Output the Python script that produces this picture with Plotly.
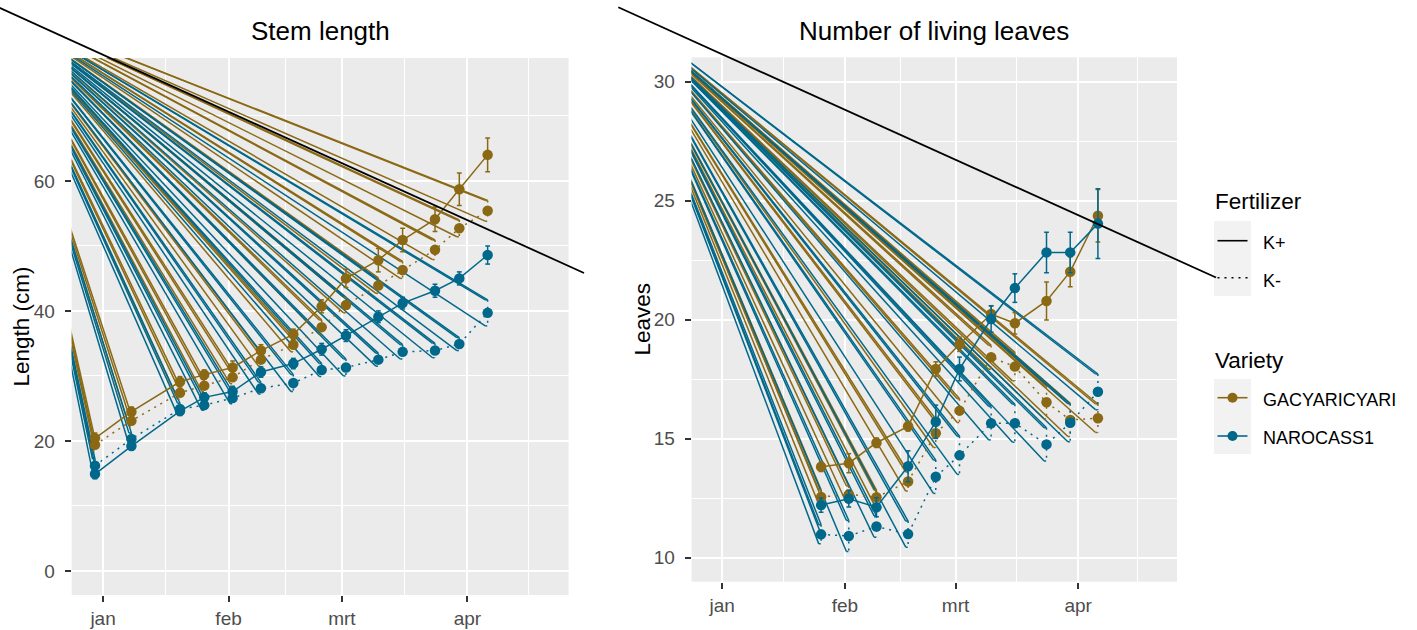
import pandas as pd
import plotly.graph_objects as go

# ---------------------------------------------------------------- data
BASE = pd.Timestamp("2019-01-01")

stem_dates = ["2018-12-30", "2019-01-08", "2019-01-20", "2019-01-26", "2019-02-02",
              "2019-02-09", "2019-02-17", "2019-02-24", "2019-03-02", "2019-03-10",
              "2019-03-16", "2019-03-24", "2019-03-30", "2019-04-06"]
leaf_dates = stem_dates[3:]

# Stem length (cm): mean and standard error per variety x fertilizer
stem_gac_kplus = [20.4, 24.5, 29.1, 30.2, 31.3, 33.9, 36.4, 40.7, 45.0, 47.8, 50.9, 54.1, 58.7, 64.0]
stem_gac_kplus_se = [0.8, 0.7, 0.8, 0.7, 1.0, 0.9, 0.8, 1.0, 1.4, 1.8, 1.8, 1.9, 2.5, 2.6]
stem_gac_kmin = [19.4, 23.1, 27.4, 28.5, 29.8, 32.5, 34.8, 37.5, 40.9, 43.9, 46.3, 49.4, 52.7, 55.4]
stem_gac_kmin_se = [0.9, 0.8, 1.0, 0.9, 1.0, 1.0, 1.1, 1.1, 1.2, 1.2, 1.3, 1.5, 1.3, 1.6]
stem_naro_kplus = [14.9, 19.2, 24.6, 26.7, 27.6, 30.6, 31.9, 34.1, 36.2, 39.1, 41.2, 43.1, 45.0, 48.6]
stem_naro_kplus_se = [0.7, 0.6, 0.7, 0.7, 0.8, 0.8, 0.8, 0.9, 0.9, 0.9, 0.9, 1.0, 1.0, 1.4]
stem_naro_kmin = [16.2, 20.3, 24.9, 25.5, 26.6, 28.1, 28.9, 30.9, 31.3, 32.5, 33.7, 33.9, 34.9, 39.7]
stem_naro_kmin_se = [1.0, 0.9, 0.9, 0.8, 0.9, 0.9, 1.3, 1.0, 1.3, 1.0, 1.1, 1.1, 1.0, 2.0]

# Number of living leaves: mean and standard error
leaf_gac_kplus = [13.82, 13.97, 14.83, 15.52, 17.93, 18.97, 20.24, 19.85, 20.79, 22.02, 24.37]
leaf_gac_kplus_se = [0.2, 0.4, 0.2, 0.2, 0.3, 0.3, 0.35, 0.45, 0.8, 0.63, 1.1]
leaf_gac_kmin = [12.55, 12.66, 12.54, 13.20, 15.23, 16.18, 18.42, 18.03, 16.53, 15.79, 15.86]
leaf_gac_kmin_se = [0.3, 0.35, 0.3, 0.4, 0.6, 0.5, 0.5, 0.6, 0.7, 0.7, 0.6]
leaf_naro_kplus = [12.21, 12.48, 12.12, 13.84, 15.71, 17.93, 20.03, 21.33, 22.83, 22.83, 24.04]
leaf_naro_kplus_se = [0.3, 0.35, 0.4, 0.65, 0.7, 0.5, 0.55, 0.6, 0.85, 0.85, 1.47]
leaf_naro_kmin = [10.98, 10.91, 11.31, 10.99, 13.40, 14.30, 15.65, 15.65, 14.76, 15.67, 16.97]
leaf_naro_kmin_se = [0.4, 0.65, 0.45, 0.55, 0.7, 0.8, 0.7, 0.8, 0.7, 0.8, 0.75]

month_ticks = ["2019-01-01", "2019-02-01", "2019-03-01", "2019-04-01"]
month_labels = ["jan", "feb", "mrt", "apr"]
month_mids = ["2019-01-16 12:00", "2019-02-15", "2019-03-16 12:00", "2019-04-16"]

# stray stroke origin of every dotted path, one per panel (date offset in days, value)
stem_origin = (-25.87, 86.7)
leaf_origin = (-26.27, 33.13)

# ---------------------------------------------------------------- style
GOLD = "#8B6914"
BLUE = "#00688B"
FONT = "Liberation Sans, Arial, sans-serif"
W, H = 1417, 630
CAP = 0.6          # half width of the error bar caps, days
DOT = "2px,5px"


def fx(p):
    return p / W


def fy(p):
    return 1 - p / H


def ts(t):
    return pd.Timestamp(t)


def iso(t):
    return t.strftime("%Y-%m-%d %H:%M:%S")


def errorbar_xy(dates, mean, se):
    xs, ys = [], []
    for d, m, s in zip(dates, mean, se):
        t = ts(d)
        lo, hi = iso(t - pd.Timedelta(days=CAP)), iso(t + pd.Timedelta(days=CAP))
        xs += [lo, hi, None, iso(t), iso(t), None, lo, hi, None]
        ys += [m + s, m + s, None, m + s, m - s, None, m - s, m - s, None]
    return xs, ys


def stray_xy(origin, dates, mean, se):
    ox = iso(BASE + pd.Timedelta(days=origin[0]))
    oy = origin[1]
    xs, ys = [], []
    # first vertex of the dotted series line
    xs += [ox, iso(ts(dates[0])), None]
    ys += [oy, mean[0], None]
    for d, m, s in zip(dates, mean, se):
        t = ts(d)
        left = iso(t - pd.Timedelta(days=CAP))
        for px_, py_ in ((left, m + s), (iso(t), m + s), (left, m - s)):
            xs += [ox, px_, None]
            ys += [oy, py_, None]
    return xs, ys


fig = go.Figure()

panels = [
    ("x", "y", stem_dates, stem_origin, [
        (GOLD, "solid", stem_gac_kplus, stem_gac_kplus_se),
        (GOLD, "dot", stem_gac_kmin, stem_gac_kmin_se),
        (BLUE, "solid", stem_naro_kplus, stem_naro_kplus_se),
        (BLUE, "dot", stem_naro_kmin, stem_naro_kmin_se),
    ]),
    ("x2", "y2", leaf_dates, leaf_origin, [
        (GOLD, "solid", leaf_gac_kplus, leaf_gac_kplus_se),
        (GOLD, "dot", leaf_gac_kmin, leaf_gac_kmin_se),
        (BLUE, "solid", leaf_naro_kplus, leaf_naro_kplus_se),
        (BLUE, "dot", leaf_naro_kmin, leaf_naro_kmin_se),
    ]),
]

for xa, ya, dates, origin, series in panels:
    # stray strokes from the dotted paths
    for color, dash, mean, se in series:
        if dash != "dot":
            continue
        sx, sy = stray_xy(origin, dates, mean, se)
        fig.add_trace(go.Scatter(x=sx, y=sy, mode="lines", xaxis=xa, yaxis=ya,
                                 line=dict(color=color, width=1.5), hoverinfo="skip",
                                 showlegend=False))
    for color, dash, mean, se in series:
        d = DOT if dash == "dot" else "solid"
        ex, ey = errorbar_xy(dates, mean, se)
        fig.add_trace(go.Scatter(x=ex, y=ey, mode="lines", xaxis=xa, yaxis=ya,
                                 line=dict(color=color, width=1.5, dash=d),
                                 hoverinfo="skip", showlegend=False))
        fig.add_trace(go.Scatter(x=dates, y=mean, mode="lines+markers", xaxis=xa, yaxis=ya,
                                 line=dict(color=color, width=1.5, dash=d),
                                 marker=dict(color=color, size=10.5, symbol="circle"),
                                 showlegend=False))

x_range = [iso(BASE + pd.Timedelta(days=-7.75)), iso(BASE + pd.Timedelta(days=115.0))]

common_x = dict(type="date", range=x_range, tickmode="array", tickvals=month_ticks,
                ticktext=month_labels, showgrid=True, gridcolor="white", gridwidth=2.2,
                zeroline=False, showline=False, ticks="outside", ticklen=6, tickwidth=1.5,
                tickcolor="#333333", tickfont=dict(family=FONT, size=19, color="#4D4D4D"),
                minor=dict(tickmode="array", tickvals=month_mids, showgrid=True,
                           gridcolor="white", gridwidth=1.1, ticks=""),
                ticklabelstandoff=0, automargin=False, fixedrange=True)
common_y = dict(showgrid=True, gridcolor="white", gridwidth=2.2, zeroline=False,
                showline=False, ticks="outside", ticklen=6, tickwidth=1.5,
                tickcolor="#333333", tickfont=dict(family=FONT, size=19, color="#4D4D4D"),
                ticklabelstandoff=6, automargin=False, fixedrange=True)

fig.update_layout(
    width=W, height=H,
    margin=dict(l=0, r=0, t=0, b=0),
    paper_bgcolor="white", plot_bgcolor="#EBEBEB",
    font=dict(family=FONT),
    showlegend=False,
    xaxis=dict(common_x, domain=[fx(71.7), fx(568.6)], anchor="y"),
    yaxis=dict(common_y, domain=[fy(595), fy(58)], anchor="x", range=[-3.7, 78.9],
               tickvals=[0, 20, 40, 60],
               minor=dict(tickmode="array", tickvals=[10, 30, 50, 70], showgrid=True,
                          gridcolor="white", gridwidth=1.1, ticks="")),
    xaxis2=dict(common_x, domain=[fx(691.6), fx(1177)], anchor="y2"),
    yaxis2=dict(common_y, domain=[fy(581.7), fy(57.3)], anchor="x2", range=[8.99, 31.03],
                tickvals=[10, 15, 20, 25, 30],
                minor=dict(tickmode="array", tickvals=[12.5, 17.5, 22.5, 27.5], showgrid=True,
                           gridcolor="white", gridwidth=1.1, ticks="")),
)

annotations = [
    dict(text="Stem length", x=fx(320), y=fy(31), size=26),
    dict(text="Number of living leaves", x=fx(934.3), y=fy(31), size=26),
    dict(text="Length (cm)", x=fx(21), y=fy(326.5), size=22.5, angle=-90),
    dict(text="Leaves", x=fx(642), y=fy(319.5), size=22.5, angle=-90),
]
for a in annotations:
    fig.add_annotation(x=a["x"], y=a["y"], xref="paper", yref="paper", text=a["text"],
                       showarrow=False, xanchor="center", yanchor="middle",
                       textangle=a.get("angle", 0),
                       font=dict(family=FONT, size=a["size"], color="black"))

# legends
legend_text = [
    ("Fertilizer", 202, 22.5), ("K+", 243, 18), ("K-", 281, 18),
    ("Variety", 360, 22.5), ("GACYARICYARI", 399.5, 18), ("NAROCASS1", 437.5, 18),
]
for text, py, size in legend_text:
    x0 = 1213 if size > 20 else 1261
    fig.add_annotation(x=fx(x0), y=fy(py), xref="paper", yref="paper", text=text,
                       showarrow=False, xanchor="left", yanchor="middle",
                       font=dict(family=FONT, size=size, color="black"))

shapes = []
for top, bottom in ((221, 296), (379, 454)):
    shapes.append(dict(type="rect", xref="paper", yref="paper", x0=fx(1214), x1=fx(1251),
                       y0=fy(bottom), y1=fy(top), fillcolor="#F2F2F2", line=dict(width=0),
                       layer="above"))
for py, color, dash in ((240.7, "black", "solid"), (277.7, "black", DOT),
                        (397.7, GOLD, "solid"), (436, BLUE, "solid")):
    shapes.append(dict(type="line", xref="paper", yref="paper", x0=fx(1217.5), x1=fx(1247.5),
                       y0=fy(py), y1=fy(py), line=dict(color=color, width=1.6, dash=dash),
                       layer="above"))
for py, color in ((397.7, GOLD), (436, BLUE)):
    shapes.append(dict(type="circle", xref="paper", yref="paper", x0=fx(1227.5), x1=fx(1237.5),
                       y0=fy(py + 5), y1=fy(py - 5), fillcolor=color, line=dict(width=0),
                       layer="above"))
# stray strokes from the legend key paths
for (ax, ay), (bx, by) in (((-1.6, 7.3), (584, 273)), ((618.3, 7.3), (1216, 277.5))):
    shapes.append(dict(type="line", xref="paper", yref="paper", x0=fx(ax), y0=fy(ay),
                       x1=fx(bx), y1=fy(by), line=dict(color="black", width=1.8),
                       layer="above"))
fig.update_layout(shapes=shapes)

fig.write_html("out.html")
